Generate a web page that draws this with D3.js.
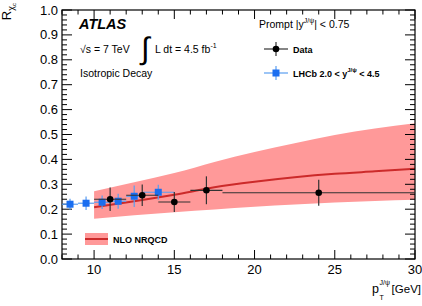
<!DOCTYPE html>
<html>
<head>
<meta charset="utf-8">
<script src="https://cdn.jsdelivr.net/npm/d3@7"></script>
<style>
  body { margin: 0; background: #fff; }
  svg { display: block; font-family: 'Liberation Sans', Arial, sans-serif; }
</style>
</head>
<body>
<svg width="422" height="306"></svg>
<script>
// ATLAS prompt data
var atlasPt = [11, 13, 15, 17, 24]
var atlasLo = [10, 12, 14, 16, 18]
var atlasHi = [12, 14, 16, 18, 30]
var atlasR = [0.240, 0.256, 0.229, 0.276, 0.266]
var atlasErr = [0.047, 0.043, 0.040, 0.056, 0.052]

// LHCb
var lhcbPt = [8.5, 9.5, 10.5, 11.5, 12.5, 14]
var lhcbLo = [8, 9, 10, 11, 12, 13]
var lhcbHi = [9, 10, 11, 12, 13, 15]
var lhcbR = [0.220, 0.224, 0.228, 0.232, 0.252, 0.268]
var lhcbErr = [0.022, 0.027, 0.027, 0.030, 0.043, 0.030]

// NLO NRQCD band
var nloPt = [10, 12.5, 15, 17.5, 20, 22.5, 25, 27.5, 30]
var nloLow = [0.162, 0.176, 0.188, 0.199, 0.210, 0.219, 0.227, 0.233, 0.238]
var nloCen = [0.208, 0.232, 0.258, 0.288, 0.310, 0.328, 0.342, 0.352, 0.362]
var nloUp = [0.272, 0.308, 0.345, 0.390, 0.430, 0.465, 0.498, 0.524, 0.545]

var xTicks = [10, 15, 20, 25, 30]
var yTicks = d3.range(0, 1.01, 0.1)

var svg = d3.select('svg')
var pL = 62, pR = 415, pT = 10, pB = 259

var x = d3.scaleLinear().domain([8, 30]).range([pL, pR])
var y = d3.scaleLinear().domain([0, 1]).range([pB, pT])

// band
var band = nloPt.map(function(d, i) { return { x: d, lo: nloLow[i], c: nloCen[i], up: nloUp[i] } })
svg.append('path')
    .datum(band)
    .attr('fill', '#ff9999')
    .attr('d', d3.area().curve(d3.curveMonotoneX)
      .x(function(d) { return x(d.x) })
      .y0(function(d) { return y(d.lo) })
      .y1(function(d) { return y(d.up) }))
svg.append('path')
    .datum(band)
    .attr('fill', 'none')
    .attr('stroke', '#cc2a2a')
    .attr('stroke-width', 2)
    .attr('d', d3.line().curve(d3.curveMonotoneX)
      .x(function(d) { return x(d.x) })
      .y(function(d) { return y(d.c) }))

// axes with inward ticks
function minorTicks(domain, step) {
  var out = []
  for (var v = domain[0]; v <= domain[1] + 1e-9; v += step) out.push(+v.toFixed(4))
  return out
}
var xMinor = minorTicks([8, 30], 1).filter(function(v) { return xTicks.indexOf(v) < 0 })
var yMinor = minorTicks([0, 1], 0.02)

var g = svg.append('g').attr('stroke', '#000').attr('stroke-width', 1)
xTicks.forEach(function(v) {
  g.append('line').attr('x1', x(v)).attr('x2', x(v)).attr('y1', pB).attr('y2', pB - 9)
  g.append('line').attr('x1', x(v)).attr('x2', x(v)).attr('y1', pT).attr('y2', pT + 9)
})
xMinor.forEach(function(v) {
  g.append('line').attr('x1', x(v)).attr('x2', x(v)).attr('y1', pB).attr('y2', pB - 4.5)
  g.append('line').attr('x1', x(v)).attr('x2', x(v)).attr('y1', pT).attr('y2', pT + 4.5)
})
yMinor.forEach(function(v) {
  var major = Math.abs(v * 10 - Math.round(v * 10)) < 1e-6
  var len = major ? 10 : 5
  g.append('line').attr('x1', pL).attr('x2', pL + len).attr('y1', y(v)).attr('y2', y(v))
  g.append('line').attr('x1', pR).attr('x2', pR - len).attr('y1', y(v)).attr('y2', y(v))
})
svg.append('rect')
    .attr('x', pL).attr('y', pT)
    .attr('width', pR - pL).attr('height', pB - pT)
    .attr('fill', 'none').attr('stroke', '#000').attr('stroke-width', 1.2)

svg.selectAll('.xlab').data(xTicks).enter().append('text')
    .attr('x', function(d) { return x(d) })
    .attr('y', 274)
    .attr('text-anchor', 'middle')
    .attr('font-size', 13)
    .text(function(d) { return d })
svg.selectAll('.ylab').data(yTicks).enter().append('text')
    .attr('x', 58)
    .attr('y', function(d) { return y(d) + 4.5 })
    .attr('text-anchor', 'end')
    .attr('font-size', 13)
    .text(function(d) { return d3.format('.1f')(d) })

// LHCb points
var lhcb = lhcbPt.map(function(d, i) { return { x: d, lo: lhcbLo[i], hi: lhcbHi[i], r: lhcbR[i], e: lhcbErr[i] } })
var lg = svg.append('g')
lg.selectAll('.h').data(lhcb).enter().append('line')
    .attr('x1', function(d) { return x(d.lo) }).attr('x2', function(d) { return x(d.hi) })
    .attr('y1', function(d) { return y(d.r) }).attr('y2', function(d) { return y(d.r) })
    .attr('stroke', '#5a9ef0').attr('stroke-width', 1.2)
lg.selectAll('.v').data(lhcb).enter().append('line')
    .attr('x1', function(d) { return x(d.x) }).attr('x2', function(d) { return x(d.x) })
    .attr('y1', function(d) { return y(d.r - d.e) }).attr('y2', function(d) { return y(d.r + d.e) })
    .attr('stroke', '#5a9ef0').attr('stroke-width', 1.2)
lg.selectAll('rect').data(lhcb).enter().append('rect')
    .attr('x', function(d) { return x(d.x) - 3.5 }).attr('y', function(d) { return y(d.r) - 3.5 })
    .attr('width', 7).attr('height', 7)
    .attr('fill', '#1a6ef0')

// ATLAS points
var atlas = atlasPt.map(function(d, i) { return { x: d, lo: atlasLo[i], hi: atlasHi[i], r: atlasR[i], e: atlasErr[i] } })
var ag = svg.append('g')
ag.selectAll('.h').data(atlas).enter().append('line')
    .attr('x1', function(d) { return x(d.lo) }).attr('x2', function(d) { return x(d.hi) })
    .attr('y1', function(d) { return y(d.r) }).attr('y2', function(d) { return y(d.r) })
    .attr('stroke', '#333').attr('stroke-width', 1.2)
ag.selectAll('.v').data(atlas).enter().append('line')
    .attr('x1', function(d) { return x(d.x) }).attr('x2', function(d) { return x(d.x) })
    .attr('y1', function(d) { return y(d.r - d.e) }).attr('y2', function(d) { return y(d.r + d.e) })
    .attr('stroke', '#333').attr('stroke-width', 1.2)
ag.selectAll('circle').data(atlas).enter().append('circle')
    .attr('cx', function(d) { return x(d.x) }).attr('cy', function(d) { return y(d.r) })
    .attr('r', 3.3).attr('fill', '#000')

// labels
svg.append('text').attr('x', 79).attr('y', 29)
    .attr('font-size', 14.5).attr('font-weight', 'bold').attr('font-style', 'italic')
    .text('ATLAS')
var t = svg.append('text').attr('x', 80).attr('y', 53).attr('font-size', 10.5)
t.append('tspan').text('√s = 7 TeV')
svg.append('text').attr('x', 141).attr('y', 59).attr('font-size', 31).attr('font-weight', 'lighter').text('∫')
var t2 = svg.append('text').attr('x', 155).attr('y', 53).attr('font-size', 10.5)
t2.append('tspan').text('L dt = 4.5 fb')
t2.append('tspan').attr('font-size', 7).attr('dy', -5).text('-1')
svg.append('text').attr('x', 80).attr('y', 77).attr('font-size', 10.5).text('Isotropic Decay')

var t3 = svg.append('text').attr('x', 259).attr('y', 28).attr('font-size', 10.5)
t3.append('tspan').text('Prompt  |y')
t3.append('tspan').attr('font-size', 7).attr('dy', -5).text('J/ψ')
t3.append('tspan').attr('dy', 5).text('| < 0.75')

// legend entries
svg.append('line').attr('x1', 264).attr('x2', 288).attr('y1', 49).attr('y2', 49).attr('stroke', '#333').attr('stroke-width', 1.2)
svg.append('line').attr('x1', 276).attr('x2', 276).attr('y1', 42).attr('y2', 56).attr('stroke', '#333').attr('stroke-width', 1.2)
svg.append('circle').attr('cx', 276).attr('cy', 49).attr('r', 3.3).attr('fill', '#000')
svg.append('text').attr('x', 293).attr('y', 52.5).attr('font-size', 9).attr('font-weight', 'bold').text('Data')

svg.append('line').attr('x1', 264).attr('x2', 288).attr('y1', 73).attr('y2', 73).attr('stroke', '#5a9ef0').attr('stroke-width', 1.2)
svg.append('line').attr('x1', 276).attr('x2', 276).attr('y1', 66).attr('y2', 80).attr('stroke', '#5a9ef0').attr('stroke-width', 1.2)
svg.append('rect').attr('x', 272.5).attr('y', 69.5).attr('width', 7).attr('height', 7).attr('fill', '#1a6ef0')
var t4 = svg.append('text').attr('x', 293).attr('y', 76.5).attr('font-size', 9).attr('font-weight', 'bold')
t4.append('tspan').text('LHCb 2.0 < y')
t4.append('tspan').attr('font-size', 6).attr('dy', -5).text('J/ψ')
t4.append('tspan').attr('dy', 5).text(' < 4.5')

svg.append('rect').attr('x', 85).attr('y', 233).attr('width', 23).attr('height', 12).attr('fill', '#ff9999')
svg.append('line').attr('x1', 85).attr('x2', 108).attr('y1', 239).attr('y2', 239).attr('stroke', '#cc2a2a').attr('stroke-width', 2)
svg.append('text').attr('x', 113).attr('y', 242.5).attr('font-size', 9).attr('font-weight', 'bold').text('NLO NRQCD')

// axis titles
var xt = svg.append('text').attr('y', 293).attr('font-size', 12.5)
xt.append('tspan').attr('x', 372).text('p')
xt.append('tspan').attr('x', 379.5).attr('y', 285).attr('font-size', 7).text('J/ψ')
xt.append('tspan').attr('x', 379.5).attr('y', 300).attr('font-size', 7).text('T')
svg.append('text').attr('x', 421).attr('y', 293).attr('text-anchor', 'end')
    .attr('font-size', 11.5).text('[GeV]')

var yt = svg.append('text').attr('transform', 'translate(10.5,3) rotate(-90)')
    .attr('text-anchor', 'end').attr('font-size', 13)
yt.append('tspan').text('R')
yt.append('tspan').attr('font-size', 9).attr('dy', 3).text('χ')
yt.append('tspan').attr('font-size', 6).attr('dy', 2).text('c')
</script>
</body>
</html>
